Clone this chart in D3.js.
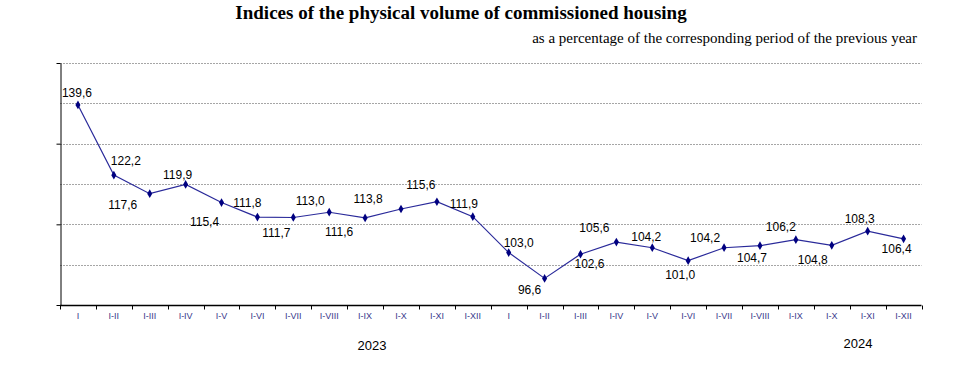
<!DOCTYPE html>
<meta charset="utf-8">
<style>
    body { margin: 0; background: #fff; }
    .title { font-family: "Liberation Serif", "Times New Roman", serif; font-weight: bold; font-size: 19px; }
    .subtitle { font-family: "Liberation Serif", "Times New Roman", serif; font-size: 15px; }
    .lbl { font-family: "Liberation Sans", Arial, sans-serif; font-size: 12px; fill: #000; }
    .xt { font-family: "Liberation Sans", Arial, sans-serif; font-size: 9px; fill: #3a3a8c; }
    .year { font-family: "Liberation Sans", Arial, sans-serif; font-size: 13px; fill: #000; }
    .grid line { stroke: #a6a6a6; stroke-dasharray: 2,1; }
</style>
<body>
<script src="https://cdn.jsdelivr.net/npm/d3@7"></script>
<script>
    var periods = ["I","I-II","I-III","I-IV","I-V","I-VI","I-VII","I-VIII","I-IX","I-X","I-XI","I-XII",
                   "I","I-II","I-III","I-IV","I-V","I-VI","I-VII","I-VIII","I-IX","I-X","I-XI","I-XII"]
    var years = ["2023", "2024"]
    var values = [139.6, 122.2, 117.6, 119.9, 115.4, 111.8, 111.7, 113.0, 111.6, 113.8, 115.6, 111.9,
                  103.0, 96.6, 102.6, 105.6, 104.2, 101.0, 104.2, 104.7, 106.2, 104.8, 108.3, 106.4]
    var gridValues = [100, 110, 120, 130, 140, 150]
    var yTicks = [90, 110, 130, 150]

    // label offsets from each point (px), as placed in the original
    var labelOffsets = [[-1,-12],[12,-14],[-27,11],[-8,-10],[-17,19],[-10,-14],[-17,15],[-19,-11],
                        [-26,14],[-33,-10],[-16,-17],[-9,-13],[10,-10],[-15,11],[9,10],[-22,-14],
                        [-6,-11],[-8,14],[-19,-10],[-8,12],[-15,-13],[-19,14],[-8,-12],[-7,10]]

    var width = 955, height = 374
    var mLeft = 60, mRight = 921.5, mTop = 63, mBottom = 305

    var svg = d3.select("body").append("svg")
        .attr("width", width)
        .attr("height", height)

    svg.append("text").attr("class", "title")
        .attr("x", 461).attr("y", 19).attr("text-anchor", "middle")
        .text("Indices of the physical volume of commissioned housing")
    svg.append("text").attr("class", "subtitle")
        .attr("x", 917).attr("y", 43).attr("text-anchor", "end")
        .text("as a percentage of the corresponding period of the previous year")

    var x = d3.scaleBand()
        .domain(d3.range(periods.length))
        .range([mLeft, mRight])
    var y = d3.scaleLinear()
        .domain([90, 150])
        .range([mBottom, mTop])

    // gridlines
    svg.append("g").attr("class", "grid")
        .selectAll("line")
        .data(gridValues)
        .enter().append("line")
            .attr("x1", mLeft).attr("x2", mRight)
            .attr("y1", d => Math.round(y(d)) + 0.5)
            .attr("y2", d => Math.round(y(d)) + 0.5)

    // y axis (no labels)
    var yAxis = svg.append("g")
        .attr("transform", `translate(${mLeft + 0.5},0)`)
        .call(d3.axisLeft(y).tickValues(yTicks).tickSize(4).tickSizeOuter(0).tickFormat(""))
    yAxis.selectAll("path, line").attr("stroke", "#000")

    // x axis: ticks between bands
    var xAxis = svg.append("g")
        .attr("transform", `translate(0,${mBottom + 0.5})`)
    xAxis.append("line")
        .attr("x1", mLeft).attr("x2", mRight)
        .attr("stroke", "#000").attr("stroke-width", 1.5)
    xAxis.selectAll("line.tk")
        .data(d3.range(periods.length + 1))
        .enter().append("line").attr("class", "tk")
            .attr("x1", i => Math.round(mLeft + i * x.step()) + 0.5)
            .attr("x2", i => Math.round(mLeft + i * x.step()) + 0.5)
            .attr("y1", 0).attr("y2", 4)
            .attr("stroke", "#000")
    xAxis.selectAll("text")
        .data(periods)
        .enter().append("text").attr("class", "xt")
            .attr("x", (d, i) => x(i) + x.bandwidth() / 2)
            .attr("y", 13)
            .attr("text-anchor", "middle")
            .text(d => d)

    svg.selectAll("text.year")
        .data(years)
        .enter().append("text").attr("class", "year")
            .attr("x", (d, i) => i == 0 ? 372 : 858)
            .attr("y", (d, i) => i == 0 ? 350 : 348)
            .attr("text-anchor", "middle")
            .text(d => d)

    var cx = (d, i) => x(i) + x.bandwidth() / 2

    var line = d3.line()
        .x(cx)
        .y(d => y(d))

    svg.append("path")
        .datum(values)
        .attr("d", line)
        .attr("fill", "none")
        .attr("stroke", "#2a2a9a")
        .attr("stroke-width", 1.2)

    svg.selectAll("path.mk")
        .data(values)
        .enter().append("path").attr("class", "mk")
            .attr("d", d3.symbol().type(d3.symbolDiamond).size(22))
            .attr("transform", (d, i) => `translate(${cx(d, i)},${y(d)})`)
            .attr("fill", "#000080")

    svg.selectAll("text.lbl")
        .data(values)
        .enter().append("text").attr("class", "lbl")
            .attr("x", (d, i) => cx(d, i) + labelOffsets[i][0])
            .attr("y", (d, i) => y(d) + labelOffsets[i][1])
            .attr("dy", "0.35em")
            .attr("text-anchor", "middle")
            .text(d => d.toFixed(1).replace(".", ","))
</script>
</body>
